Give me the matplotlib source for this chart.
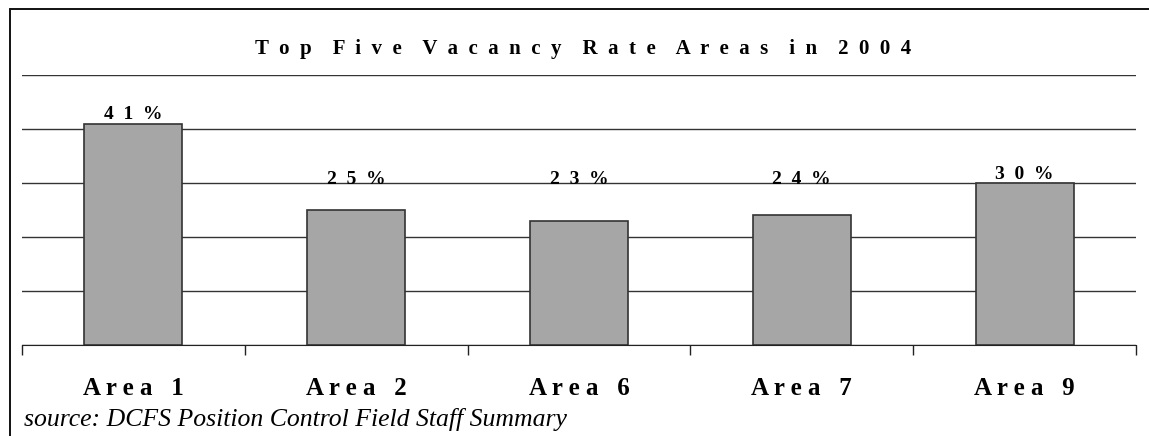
import matplotlib.pyplot as plt
import matplotlib.patches as mpatches
import numpy as np

areas = ["Area 1", "Area 2", "Area 6", "Area 7", "Area 9"]
rates = [0.41, 0.25, 0.23, 0.24, 0.30]
rate_labels = ["41%", "25%", "23%", "24%", "30%"]
title = "Top Five Vacancy Rate Areas in 2004"
source = "source: DCFS Position Control Field Staff Summary"


def spaced(s, gap=" ", wgap="   "):
    # letter-spaced text like the original
    return wgap.join(gap.join(w) for w in s.split(" "))


plt.rcParams['font.family'] = ['Liberation Serif', 'DejaVu Serif']

W, H = 1149, 436
fig = plt.figure(figsize=(W / 100, H / 100), dpi=100)

# outer frame
fig.patches.append(mpatches.Rectangle((10 / W, -0.05), 1.2, 1.05 - 9.5 / H, transform=fig.transFigure,
                                      fill=False, edgecolor='#111111', lw=1.4))

ax = fig.add_axes([22 / W, (H - 345) / H, (1136 - 22) / W, (345 - 75) / H])
x = np.arange(len(areas))
ax.bar(x, rates, width=0.44, color='#a6a6a6', edgecolor='#333333', lw=1.2, zorder=3)
ax.set_xlim(-0.5, len(areas) - 0.5)
ax.set_ylim(0, 0.5)
ax.set_yticks(np.arange(0, 0.51, 0.1))
ax.yaxis.grid(True, color='#333333', lw=1)
ax.tick_params(axis='y', length=0, labelleft=False)
for s in ['left', 'right', 'top']:
    ax.spines[s].set_visible(False)
ax.spines['bottom'].set_color('#222222')
ax.spines['bottom'].set_zorder(4)

ax.set_xticks(x)
ax.set_xticklabels([spaced(a) for a in areas], fontsize=18, fontweight='bold')
ax.tick_params(axis='x', which='major', length=0, pad=23)
ax.set_xticks(np.arange(-0.5, len(areas)), minor=True)
ax.tick_params(axis='x', which='minor', length=7, width=1, color='#222222')

for xi, v, lab in zip(x, rates, rate_labels):
    ax.text(xi, max(v, 0.29) + 0.008, spaced(lab, "  "), ha='center', va='baseline',
            fontsize=14, fontweight='bold', zorder=5)

fig.text(583 / W, 1 - 54 / H, spaced(title, "  ", "    "), ha='center', va='baseline',
         fontsize=15, fontweight='bold')
fig.text(24 / W, 1 - 426 / H, source, ha='left', va='baseline', fontsize=18.5, style='italic')

fig.savefig('out.png', dpi=100)
